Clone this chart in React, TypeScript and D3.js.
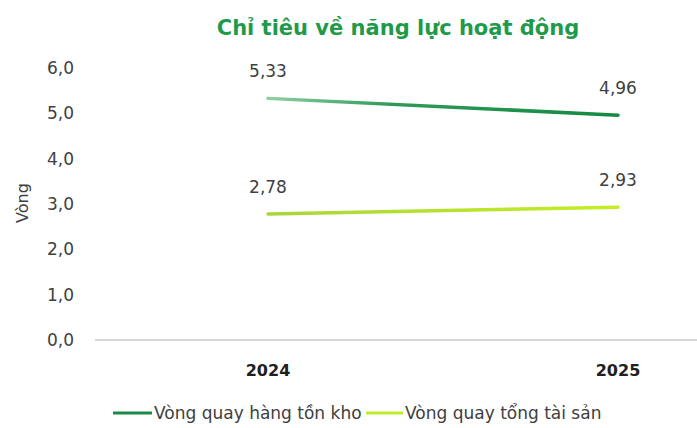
import * as d3 from 'd3';
import React, { useEffect, useRef } from 'react';

const years = ['2024', '2025'];
const inventoryTurnover = [5.33, 4.96];
const assetTurnover = [2.78, 2.93];
const yTicks = [0, 1, 2, 3, 4, 5, 6];
const seriesNames = ['Vòng quay hàng tồn kho', 'Vòng quay tổng tài sản'];

const W = 697;
const H = 428;
const FONT = '"DejaVu Sans", sans-serif';

const App = () => {
  const ref = useRef<SVGSVGElement>(null);

  useEffect(() => {
    const svg = d3.select(ref.current);
    svg.selectAll('*').remove();

    const x = d3.scalePoint().domain(years).range([268, 618]);
    const y = d3.scaleLinear().domain([0, 6]).range([340, 68]);
    const fmt = (v: number, p: number) => v.toFixed(p).replace('.', ',');

    const defs = svg.append('defs');
    const g1 = defs.append('linearGradient').attr('id', 'gDark')
      .attr('x1', '0%').attr('x2', '100%').attr('y1', '0%').attr('y2', '0%');
    g1.append('stop').attr('offset', '0%').attr('stop-color', '#8fcfa4');
    g1.append('stop').attr('offset', '35%').attr('stop-color', '#2f9a58');
    g1.append('stop').attr('offset', '100%').attr('stop-color', '#128a40');
    const g2 = defs.append('linearGradient').attr('id', 'gLight')
      .attr('x1', '0%').attr('x2', '100%').attr('y1', '0%').attr('y2', '0%');
    g2.append('stop').attr('offset', '0%').attr('stop-color', '#a8d63a');
    g2.append('stop').attr('offset', '100%').attr('stop-color', '#c4ee22');

    // title
    svg.append('text')
      .attr('x', 398).attr('y', 35)
      .attr('text-anchor', 'middle')
      .attr('font-family', FONT).attr('font-weight', 700).attr('font-size', 21)
      .attr('fill', '#1f9a4b')
      .text('Chỉ tiêu về năng lực hoạt động');

    // y ticks
    svg.append('g').selectAll('text').data(yTicks).enter().append('text')
      .attr('x', 74).attr('y', d => y(d)).attr('dy', '0.35em')
      .attr('text-anchor', 'end')
      .attr('font-family', FONT).attr('font-size', 17).attr('fill', '#404040')
      .text(d => fmt(d, 1));

    // y title
    svg.append('text')
      .attr('transform', 'translate(28,203) rotate(-90)')
      .attr('text-anchor', 'middle')
      .attr('font-family', FONT).attr('font-size', 16).attr('fill', '#404040')
      .text('Vòng');

    // baseline
    svg.append('line')
      .attr('x1', 95).attr('x2', W).attr('y1', y(0)).attr('y2', y(0))
      .attr('stroke', '#c8c8c8').attr('stroke-width', 1.5);

    // x labels
    svg.append('g').selectAll('text').data(years).enter().append('text')
      .attr('x', d => x(d) as number).attr('y', 376)
      .attr('text-anchor', 'middle')
      .attr('font-family', FONT).attr('font-weight', 700).attr('font-size', 16)
      .attr('fill', '#202020')
      .text(d => d);

    const line = d3.line<number>()
      .x((_, i) => x(years[i]) as number)
      .y(d => y(d));

    const series = [
      { vals: inventoryTurnover, stroke: 'url(#gDark)' },
      { vals: assetTurnover, stroke: 'url(#gLight)' },
    ];

    series.forEach(s => {
      svg.append('path')
        .attr('d', line(s.vals))
        .attr('fill', 'none')
        .attr('stroke', s.stroke)
        .attr('stroke-width', 3.5)
        .attr('stroke-linecap', 'round');

      svg.append('g').selectAll('text').data(s.vals).enter().append('text')
        .attr('x', (_, i) => x(years[i]) as number)
        .attr('y', d => y(d) - 21)
        .attr('text-anchor', 'middle')
        .attr('font-family', FONT).attr('font-size', 17).attr('fill', '#404040')
        .text(d => fmt(d, 2));
    });

    // legend
    const legend = [
      { name: seriesNames[0], color: '#1a8a48', x1: 113, x2: 152 },
      { name: seriesNames[1], color: '#c2ec2a', x1: 366, x2: 403 },
    ];
    legend.forEach(l => {
      svg.append('line')
        .attr('x1', l.x1).attr('x2', l.x2).attr('y1', 413).attr('y2', 413)
        .attr('stroke', l.color).attr('stroke-width', 3);
      svg.append('text')
        .attr('x', l.x2 + 2).attr('y', 413).attr('dy', '0.35em')
        .attr('font-family', FONT).attr('font-size', 17).attr('fill', '#404040')
        .text(l.name);
    });
  }, []);

  return (
    <svg ref={ref} width={W} height={H}
      style={{ position: 'absolute', left: 0, top: 0, background: '#fff' }} />
  );
};

export default App;
